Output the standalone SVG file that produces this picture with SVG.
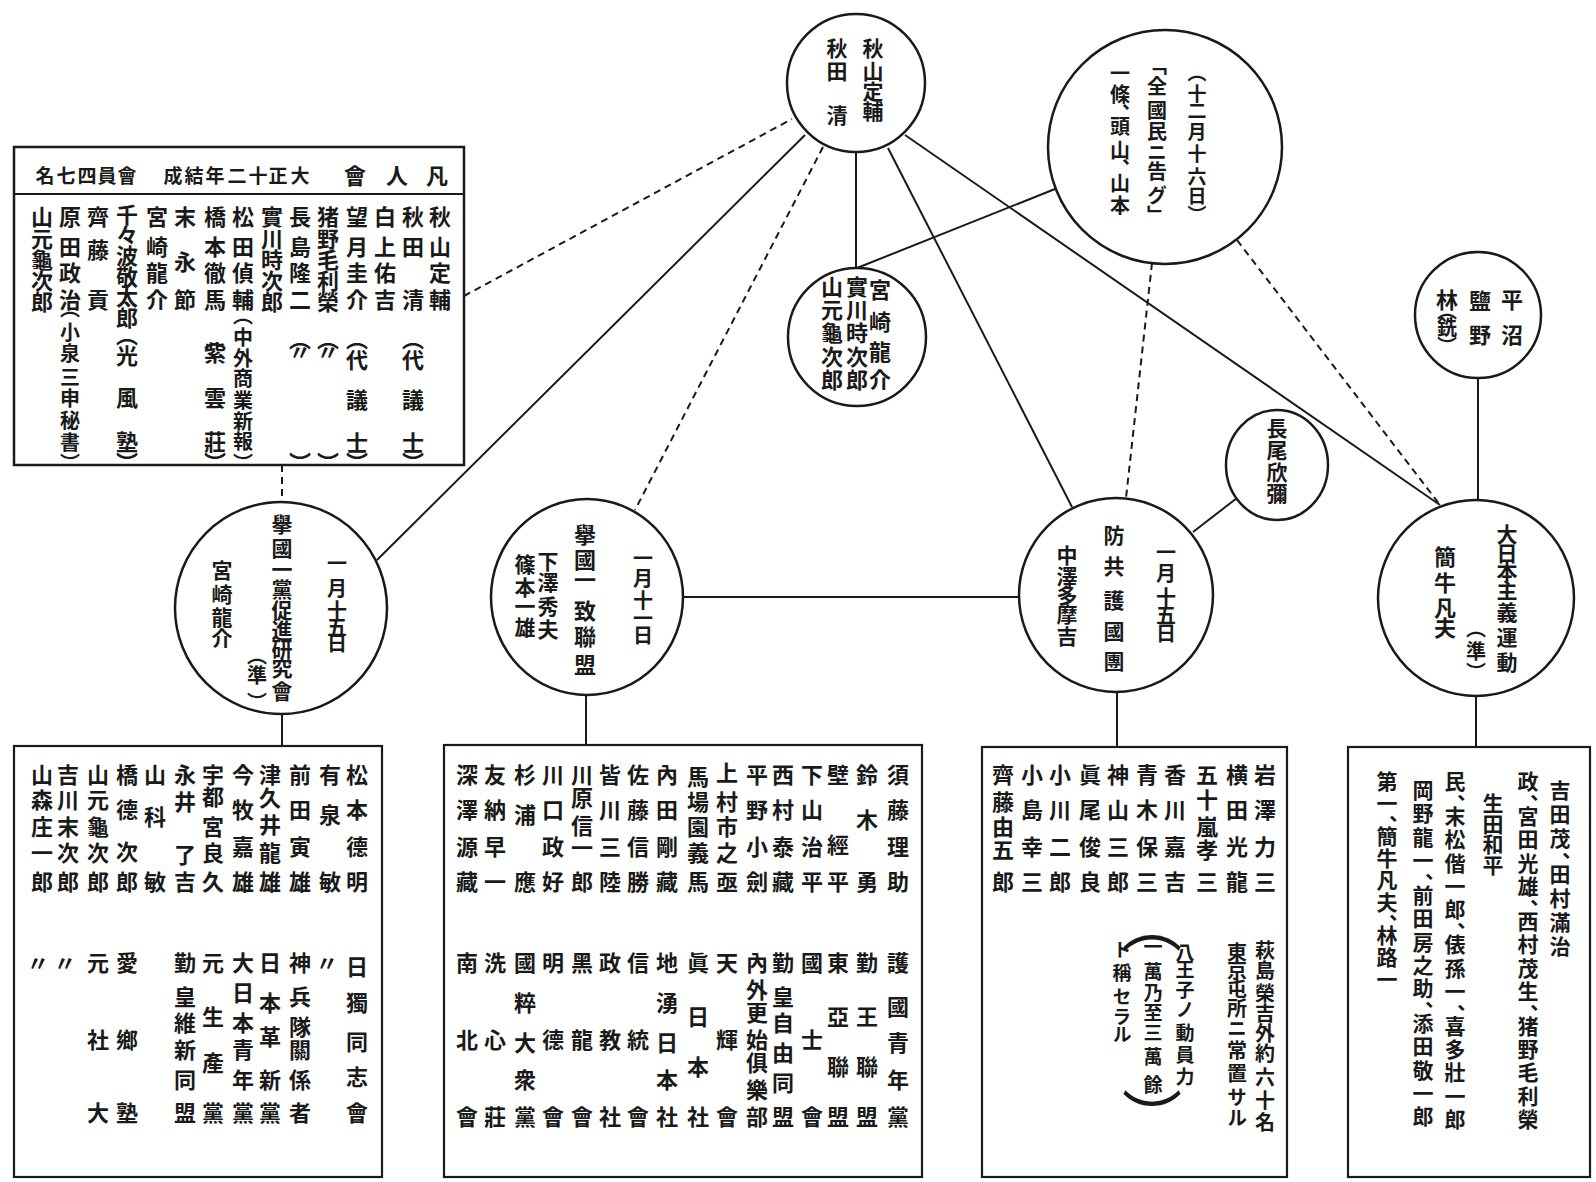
<svg xmlns="http://www.w3.org/2000/svg" width="1596" height="1182" viewBox="0 0 1596 1182">
<style>
.v{writing-mode:vertical-rl;font-family:"Noto Sans CJK JP","Noto Sans CJK TC",sans-serif;font-weight:700;fill:#1a1a1a;}
.h{font-family:"Noto Sans CJK JP","Noto Sans CJK TC",sans-serif;font-weight:700;fill:#1a1a1a;text-anchor:middle;dominant-baseline:central;}
.f19{font-size:19px}.f20{font-size:20px}.f21{font-size:21px}.f22{font-size:22px}
.big{font-size:60px;font-weight:400}
.sh{fill:none;stroke:#1a1a1a;stroke-width:2.5}
.bx{fill:none;stroke:#1a1a1a;stroke-width:2.2}
.ln{stroke:#1a1a1a;stroke-width:2;fill:none}
.dl{stroke:#1a1a1a;stroke-width:2;fill:none;stroke-dasharray:7 5}
</style>
<rect width="1596" height="1182" fill="#ffffff"/>

<g id="connectors">
<line class="dl" x1="464" y1="296" x2="792" y2="119"/>
<line class="ln" x1="805" y1="135" x2="377" y2="560"/>
<line class="dl" x1="823" y1="147" x2="635" y2="510"/>
<line class="ln" x1="856" y1="152" x2="856" y2="268"/>
<line class="ln" x1="888" y1="148" x2="1072" y2="507"/>
<line class="ln" x1="905" y1="135" x2="1440" y2="505"/>
<line class="ln" x1="1055" y1="189" x2="857" y2="268"/>
<line class="dl" x1="1152" y1="263" x2="1126" y2="498"/>
<line class="dl" x1="1237" y1="240" x2="1440" y2="505"/>
<line class="ln" x1="1478" y1="378" x2="1478" y2="500"/>
<line class="ln" x1="1237" y1="498" x2="1193" y2="532"/>
<line class="ln" x1="683" y1="597" x2="1019" y2="597" stroke-width="2.8"/>
<line class="dl" x1="282" y1="465" x2="282" y2="502"/>
<line class="ln" x1="282" y1="714" x2="282" y2="746"/>
<line class="ln" x1="586" y1="695" x2="586" y2="745"/>
<line class="ln" x1="1117" y1="692" x2="1117" y2="747"/>
<line class="ln" x1="1476" y1="696" x2="1476" y2="747"/>
</g>

<g id="n-bonjinkai">
<rect class="sh" x="14" y="147" width="450" height="318"/>
<line class="ln" x1="14" y1="194" x2="464" y2="194"/>
<text class="h f22" x="437 397 355" y="174">凡人會</text>
<text class="h f19" x="300 278 258 237 215 194 173" y="174">大正十二年結成</text>
<text class="h f19" x="127 107 87 66 45" y="174">會員四七名</text>
<text class="v f22" x="440" y="206 236 262 289">秋山定輔</text>
<text class="v f22" x="413" y="206 236 289 328 349 389 432 452">秋田清（代議士）</text>
<text class="v f22" x="385" y="206 236 262 289">白上佑吉</text>
<text class="v f22" x="357" y="206 236 262 289 328 349 389 432 452">望月圭介（代議士）</text>
<text class="v f22" x="328" y="206 228 249 270 291 328 341 452">猪野毛利榮（〃）</text>
<text class="v f22" x="300" y="206 236 262 289 328 341 452">長島隆二（〃）</text>
<text class="v f22" x="272" y="206 228 249 270 291">實川時次郎</text>
<text class="v f22" x="243" y="206 236 262 289">松田偵輔</text>
<text class="v f20" x="243" y="305 327 348 368 390 411 431 453">（中外商業新報）</text>
<text class="v f22" x="215" y="206 236 262 289 328 342 387 431 452">橋本徹馬（紫雲莊）</text>
<text class="v f22" x="185" y="206 251 289">末永節</text>
<text class="v f22" x="157" y="206 236 262 289">宮崎龍介</text>
<text class="v f22" x="127" y="204 224 245 266 286 307 324 345 387 431 452">千々波敬太郎（光風塾）</text>
<text class="v f22" x="98" y="206 239 289">齊藤貢</text>
<text class="v f22" x="70" y="206 236 262 289">原田政治</text>
<text class="v f20" x="70" y="298 322 343 367 388 410 432 453">（小泉三申秘書）</text>
<text class="v f22" x="42" y="206 228 249 270 291">山元龜次郎</text>
</g>

<g id="n-akiyama">
<circle class="sh" cx="856" cy="83" r="69"/>
<text class="v f21" x="873" y="38 61 81 101">秋山定輔</text>
<text class="v f21" x="837" y="38 61 105">秋田清</text>
</g>

<g id="n-zenkokumin">
<circle class="sh" cx="1165" cy="147" r="117"/>
<text class="v f19" x="1197" y="63 84 101 122 144 167 186 205">（十二月十六日）</text>
<text class="v f20" x="1157" y="55 76 100 121 142 161 185 205">「全國民ニ告グ」</text>
<text class="v f20" x="1120" y="63 84 103 116 140 158 173 195">一條、頭山、山本</text>
</g>

<g id="n-miyazaki">
<circle class="sh" cx="857" cy="337" r="69"/>
<text class="v f22" x="880" y="279 311 341 369">宮崎龍介</text>
<text class="v f22" x="857" y="276 299 322 346 369">實川時次郎</text>
<text class="v f22" x="832" y="276 299 322 346 369">山元龜次郎</text>
</g>

<g id="n-hiranuma">
<circle class="sh" cx="1478" cy="315" r="63"/>
<text class="v f22" x="1512" y="289 324">平沼</text>
<text class="v f22" x="1480" y="290 324">鹽野</text>
<text class="v f22" x="1447" y="289">林</text>
<text class="v f20" x="1447" y="300 317 336">（銑）</text>
</g>

<g id="n-nagao">
<ellipse class="sh" cx="1277" cy="465" rx="51" ry="55"/>
<text class="v f21" x="1277" y="418 440 462 483">長尾欣彌</text>
</g>

<g id="n-kyokoku-itto">
<circle class="sh" cx="281" cy="608" r="106"/>
<text class="v f20" x="337" y="553 578 600 617 633">一月十五日</text>
<text class="v f21" x="282" y="514 538 559 579 600 620 639 658 681">擧國一黨促進研究會</text>
<text class="v f20" x="257" y="645 665 692">（準）</text>
<text class="v f21" x="222" y="560 584 607 628">宮崎龍介</text>
</g>

<g id="n-kyokoku-icchi">
<ellipse class="sh" cx="587" cy="597" rx="96" ry="98"/>
<text class="v f20" x="643" y="548 568 590 608 625">一月十一日</text>
<text class="v f22" x="585" y="524 549 569 600 626 654">擧國一致聯盟</text>
<text class="v f21" x="548" y="551 572 596 619">下澤秀夫</text>
<text class="v f21" x="525" y="554 577 596 617">篠本一雄</text>
</g>

<g id="n-bokyo">
<ellipse class="sh" cx="1116" cy="595" rx="97" ry="97"/>
<text class="v f20" x="1166" y="542 563 587 605 623">一月十五日</text>
<text class="v f21" x="1114" y="525 556 590 621 651">防共護國團</text>
<text class="v f21" x="1067" y="545 566 585 604 626">中澤多摩吉</text>
</g>

<g id="n-dainihon">
<ellipse class="sh" cx="1476" cy="598" rx="98" ry="98"/>
<text class="v f21" x="1507" y="524 543 561 580 602 627 652">大日本主義運動</text>
<text class="v f20" x="1476" y="618 641 662">（準）</text>
<text class="v f22" x="1445" y="546 572 597 617">簡牛凡夫</text>
</g>

<g id="n-members1">
<rect class="bx" x="14" y="746" width="368" height="431"/>
<text class="v f22" x="357" y="764 799 836 871">松本德明</text>
<text class="v f22" x="330" y="764 804 871">有泉敏</text>
<text class="v f22" x="300" y="764 799 836 871">前田寅雄</text>
<text class="v f22" x="270" y="764 787 814 842 871">津久井龍雄</text>
<text class="v f22" x="243" y="764 799 836 871">今牧嘉雄</text>
<text class="v f22" x="213" y="764 786 816 842 871">宇都宮良久</text>
<text class="v f22" x="185" y="764 791 844 871">永井了吉</text>
<text class="v f22" x="155" y="764 806 871">山科敏</text>
<text class="v f22" x="127" y="764 799 841 871">橋德次郎</text>
<text class="v f22" x="98" y="764 789 816 842 871">山元龜次郎</text>
<text class="v f22" x="68" y="764 789 816 842 871">吉川末次郎</text>
<text class="v f22" x="42" y="764 789 816 842 871">山森庄一郎</text>
<text class="v f22" x="357" y="956 992 1031 1066 1102">日獨同志會</text>
<text class="v f22" x="327" y="952">〃</text>
<text class="v f22" x="300" y="952 986 1016 1039 1069 1102">神兵隊關係者</text>
<text class="v f22" x="270" y="952 992 1026 1069 1102">日本革新黨</text>
<text class="v f22" x="243" y="952 982 1012 1039 1069 1102">大日本青年黨</text>
<text class="v f22" x="213" y="952 1006 1052 1102">元生產黨</text>
<text class="v f22" x="185" y="952 986 1012 1039 1069 1102">勤皇維新同盟</text>
<text class="v f22" x="127" y="952 1029 1102">愛鄉塾</text>
<text class="v f22" x="98" y="952 1029 1102">元社大</text>
<text class="v f22" x="65" y="952">〃</text>
<text class="v f22" x="38" y="952">〃</text>
</g>

<g id="n-members2">
<rect class="bx" x="444" y="745" width="478" height="432"/>
<text class="v f22" x="898" y="764 799 836 871">須藤理助</text>
<text class="v f22" x="867" y="764 809 871">鈴木勇</text>
<text class="v f22" x="838" y="764 834 871">壁經平</text>
<text class="v f22" x="812" y="764 799 836 871">下山治平</text>
<text class="v f22" x="783" y="764 799 836 871">西村泰藏</text>
<text class="v f22" x="757" y="764 799 836 871">平野小劍</text>
<text class="v f22" x="727" y="762 791 816 842 871">上村市之亟</text>
<text class="v f22" x="698" y="766 791 816 842 871">馬場園義馬</text>
<text class="v f22" x="667" y="764 799 836 871">內田剛藏</text>
<text class="v f22" x="638" y="764 799 836 871">佐藤信勝</text>
<text class="v f22" x="610" y="764 799 836 871">皆川三陸</text>
<text class="v f22" x="582" y="764 787 815 837 871">川原信一郎</text>
<text class="v f22" x="553" y="764 799 836 871">川口政好</text>
<text class="v f22" x="525" y="764 804 871">杉浦應</text>
<text class="v f22" x="495" y="764 799 836 871">友納早一</text>
<text class="v f22" x="467" y="764 799 836 871">深澤源藏</text>
<text class="v f22" x="898" y="952 996 1032 1069 1106">護國青年黨</text>
<text class="v f22" x="867" y="952 1006 1056 1106">勤王聯盟</text>
<text class="v f22" x="838" y="952 1006 1056 1106">東亞聯盟</text>
<text class="v f22" x="812" y="952 1029 1106">國士會</text>
<text class="v f22" x="783" y="952 986 1012 1042 1072 1106">勤皇自由同盟</text>
<text class="v f22" x="757" y="952 979 1002 1029 1052 1079 1106">內外更始俱樂部</text>
<text class="v f22" x="727" y="952 1029 1106">天輝會</text>
<text class="v f22" x="698" y="952 1006 1056 1106">眞日本社</text>
<text class="v f22" x="667" y="952 992 1032 1069 1106">地湧日本社</text>
<text class="v f22" x="638" y="952 1029 1106">信統會</text>
<text class="v f22" x="610" y="952 1029 1106">政教社</text>
<text class="v f22" x="582" y="952 1029 1106">黑龍會</text>
<text class="v f22" x="553" y="952 1029 1106">明德會</text>
<text class="v f22" x="525" y="952 992 1032 1069 1106">國粹大衆黨</text>
<text class="v f22" x="495" y="952 1029 1106">洗心莊</text>
<text class="v f22" x="467" y="952 1029 1106">南北會</text>
</g>

<g id="n-members3">
<rect class="bx" x="982" y="747" width="305" height="430"/>
<text class="v f22" x="1265" y="764 799 836 871">岩澤力三</text>
<text class="v f22" x="1237" y="764 799 836 871">横田光龍</text>
<text class="v f22" x="1207" y="764 789 816 839 871">五十嵐孝三</text>
<text class="v f22" x="1175" y="764 799 836 871">香川嘉吉</text>
<text class="v f22" x="1147" y="764 799 836 871">青木保三</text>
<text class="v f22" x="1118" y="764 799 836 871">神山三郎</text>
<text class="v f22" x="1090" y="764 799 836 871">眞尾俊良</text>
<text class="v f22" x="1060" y="764 799 836 871">小川二郎</text>
<text class="v f22" x="1032" y="764 799 836 871">小島幸三</text>
<text class="v f22" x="1003" y="764 791 816 839 871">齊藤由五郎</text>
<text class="v f20" x="1265" y="940 960 983 1003 1023 1043 1067 1090 1112">萩島榮吉外約六十名</text>
<text class="v f20" x="1237" y="942 960 978 998 1018 1040 1063 1087 1107">東京屯所ニ常置サル</text>
<text class="v big" x="1152" y="893">（</text>
<text class="v f19" x="1185" y="943 960 980 1000 1023 1045 1067">八王子ノ動員力</text>
<text class="v f19" x="1153" y="937 962 983 1003 1023 1047 1075">一萬乃至三萬餘</text>
<text class="v f19" x="1122" y="940 963 987 1007 1025">ト稱セラル</text>
<text class="v big" x="1152" y="1088">）</text>
</g>

<g id="n-members4">
<rect class="bx" x="1348" y="747" width="242" height="430"/>
<text class="v f21" x="1560" y="780 804 828 852 864 888 912 936">吉田茂、田村滿治</text>
<text class="v f21" x="1528" y="771 794 806 829 853 876 899 911 934 958 981 1004 1016 1039 1062 1086 1109">政、宮田光雄、西村茂生、猪野毛利榮</text>
<text class="v f21" x="1493" y="793 814 834 855">生田和平</text>
<text class="v f21" x="1455" y="771 794 806 829 853 876 899 922 934 958 981 1004 1016 1039 1062 1086 1109">民、末松偕一郎、俵孫一、喜多壯一郎</text>
<text class="v f21" x="1423" y="780 803 827 850 873 885 908 932 955 978 1001 1013 1036 1060 1083 1106">岡野龍一、前田房之助、添田敬一郎</text>
<text class="v f21" x="1387" y="771 793 815 826 848 870 892 914 925 947 969">第一、簡牛凡夫、林路一</text>
</g>
</svg>
